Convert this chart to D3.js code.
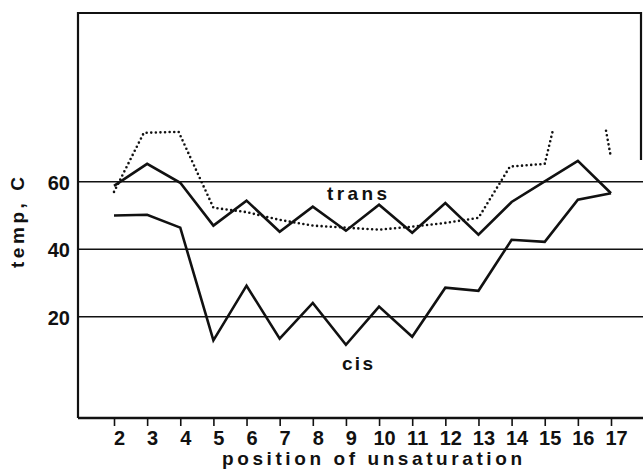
<!DOCTYPE html>
<html>
<head>
<meta charset="utf-8">
<script src="https://cdn.jsdelivr.net/npm/d3@7"></script>
<style>
  body { margin: 0; background: #fff; }
  text { font-family: "Liberation Sans", Arial, sans-serif; font-weight: bold; fill: #111; }
</style>
</head>
<body>
<div class="graphic"></div>
<script>
// values
var positions = [2, 3, 4, 5, 6, 7, 8, 9, 10, 11, 12, 13, 14, 15, 16, 17];
var transTemps = [58.8, 65.3, 59.7, 47, 54.4, 45.2, 52.6, 45.5, 53.2, 44.9, 53.7, 44.3, 54, 60.1, 66.2, 56.6];
var cisTemps = [50, 50.2, 46.4, 13, 29.2, 13.5, 24.1, 11.7, 23, 14.1, 28.6, 27.7, 42.8, 42.2, 54.7, 56.6];
// dotted curve, with a break near 16
var dottedPos = [2, 2.9, 3.95, 5, 6, 7, 8, 9, 10, 11, 12, 13, 13.95, 15, 15.25, null, 16.85, 17];
var dottedTemps = [57, 74.5, 74.8, 52.3, 51, 48.7, 47, 46.4, 45.8, 46.7, 47.8, 49.3, 64.5, 65.3, 75.4, null, 75.1, 67.1];
var gridTemps = [20, 40, 60];

var svg_width = 643, svg_height = 469;

var svg = d3.select(".graphic")
  .append("svg")
  .attr("width", svg_width)
  .attr("height", svg_height)

var x = d3.scaleLinear().domain([2, 17]).range([114, 611]);
var y = d3.scaleLinear().domain([-10, 110]).range([418, 13]);

var frameLeft = 78, frameRight = 643, frameTop = 13, frameBottom = 418;

// frame
svg.append("path")
  .attr("d", "M" + frameLeft + "," + frameBottom + "V" + frameTop + "H641V160")
  .attr("fill", "none").attr("stroke", "#111").attr("stroke-width", 2.2);
svg.append("line")
  .attr("x1", frameLeft).attr("x2", frameRight).attr("y1", frameBottom).attr("y2", frameBottom)
  .attr("stroke", "#111").attr("stroke-width", 2.4);

// horizontal grid lines
svg.append("g").selectAll("line")
  .data(gridTemps)
  .enter()
  .append("line")
  .attr("x1", frameLeft).attr("x2", frameRight)
  .attr("y1", function(d){ return y(d) })
  .attr("y2", function(d){ return y(d) })
  .attr("stroke", "#111").attr("stroke-width", 1.6);

// y labels
svg.append("g").selectAll("text")
  .data(gridTemps)
  .enter()
  .append("text")
  .attr("x", 70)
  .attr("y", function(d){ return y(d) + 8 })
  .attr("text-anchor", "end")
  .attr("font-size", "20px")
  .text(function(d){ return d });

// x axis ticks
var xAxis = d3.axisBottom(x)
  .tickValues(positions)
  .tickSize(8)
  .tickSizeOuter(0)
  .tickFormat(d3.format("d"));
var gx = svg.append("g")
  .attr("transform", "translate(0," + frameBottom + ")")
  .call(xAxis);
gx.select(".domain").remove();
gx.selectAll(".tick line").attr("stroke", "#111").attr("stroke-width", 1.6);
gx.selectAll(".tick text")
  .attr("x", 5)
  .attr("y", 13)
  .attr("font-size", "20px")
  .attr("fill", "#111");
gx.attr("font-family", null).attr("font-size", null);

// series
var line = d3.line()
  .x(function(d){ return x(d[0]) })
  .y(function(d){ return y(d[1]) });

svg.append("path")
  .datum(d3.zip(positions, transTemps))
  .attr("d", line)
  .attr("fill", "none").attr("stroke", "#111").attr("stroke-width", 2.6);

svg.append("path")
  .datum(d3.zip(positions, cisTemps))
  .attr("d", line)
  .attr("fill", "none").attr("stroke", "#111").attr("stroke-width", 2.6);

var dottedLine = d3.line()
  .defined(function(d){ return d[0] != null })
  .x(function(d){ return x(d[0]) })
  .y(function(d){ return y(d[1]) });

svg.append("path")
  .datum(d3.zip(dottedPos, dottedTemps))
  .attr("d", dottedLine)
  .attr("fill", "none").attr("stroke", "#111").attr("stroke-width", 2.6)
  .attr("stroke-linecap", "round")
  .attr("stroke-dasharray", "0,4.6");

// curve labels
svg.append("text")
  .attr("x", 327).attr("y", 200)
  .attr("font-size", "19px")
  .attr("textLength", 60).attr("lengthAdjust", "spacing")
  .text("trans");
svg.append("text")
  .attr("x", 342).attr("y", 370)
  .attr("font-size", "19px")
  .attr("textLength", 31).attr("lengthAdjust", "spacing")
  .text("cis");

// axis titles
svg.append("text")
  .attr("x", 222).attr("y", 465)
  .attr("font-size", "19px")
  .attr("textLength", 300).attr("lengthAdjust", "spacing")
  .text("position of unsaturation");
svg.append("text")
  .attr("transform", "translate(24,268) rotate(-90)")
  .attr("font-size", "19px")
  .attr("textLength", 91).attr("lengthAdjust", "spacing")
  .text("temp, C");
</script>
</body>
</html>
